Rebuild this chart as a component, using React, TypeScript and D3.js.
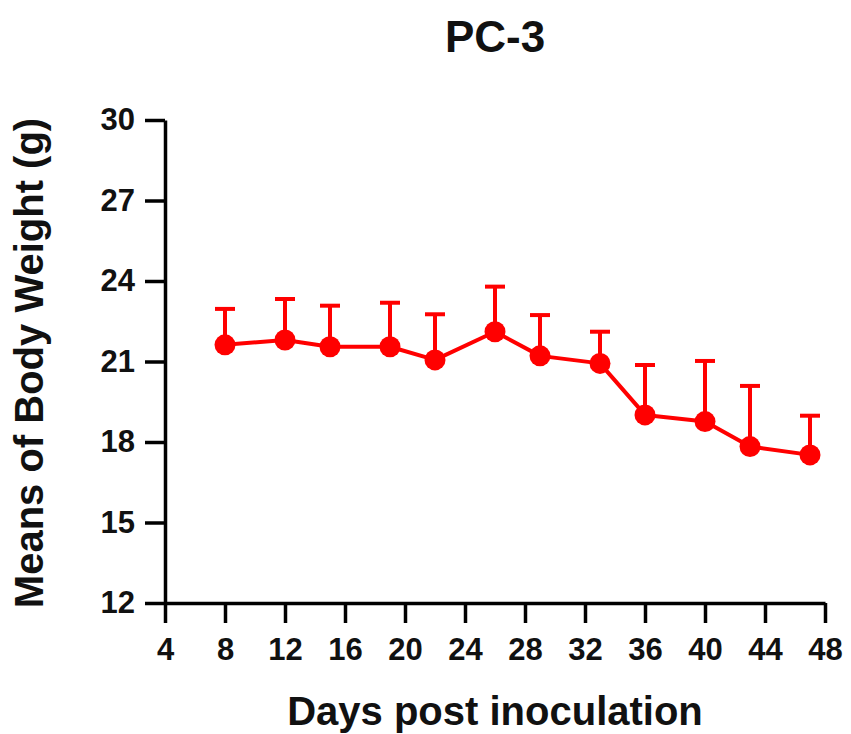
import React, { useEffect, useRef } from "react";
import * as d3 from "d3";

// PC-3 body weight (mean + SD, upper bar only)
const days = [8, 12, 15, 19, 22, 26, 29, 33, 36, 40, 43, 47];
const means = [21.62, 21.8, 21.55, 21.55, 21.06, 22.11, 21.21, 20.93, 19.01, 18.76, 17.83, 17.52];
const errors = [1.34, 1.53, 1.53, 1.64, 1.7, 1.68, 1.52, 1.18, 1.86, 2.26, 2.26, 1.46];
const xTicks = [4, 8, 12, 16, 20, 24, 28, 32, 36, 40, 44, 48];
const yTicks = [12, 15, 18, 21, 24, 27, 30];

const width = 851;
const height = 734;
const margin = { top: 120, right: 26, bottom: 131, left: 165 };
const font = "'Liberation Sans', Arial, sans-serif";
const red = "#ff0000";

export default function App() {
  const ref = useRef<SVGSVGElement>(null);

  useEffect(() => {
    const svg = d3.select(ref.current);
    svg.selectAll("*").remove();

    const x = d3
      .scaleLinear()
      .domain([4, 48])
      .range([margin.left, width - margin.right]);
    const y = d3
      .scaleLinear()
      .domain([12, 30])
      .range([height - margin.bottom, margin.top]);

    // axes
    const gx = svg
      .append("g")
      .attr("transform", `translate(0,${y(12)})`)
      .call(
        d3
          .axisBottom(x)
          .tickValues(xTicks)
          .tickSize(20)
          .tickSizeOuter(0)
          .tickPadding(15)
      );
    const gy = svg
      .append("g")
      .attr("transform", `translate(${x(4)},0)`)
      .call(
        d3
          .axisLeft(y)
          .tickValues(yTicks)
          .tickSize(20)
          .tickSizeOuter(0)
          .tickPadding(10)
      );
    [gx, gy].forEach((g) => {
      g.selectAll("path, line").attr("stroke", "#000").attr("stroke-width", 3.5);
      g.selectAll("text")
        .attr("font-family", font)
        .attr("font-weight", "bold")
        .attr("font-size", 31)
        .attr("fill", "#111");
    });

    // error bars (upper only)
    const bars = svg.append("g").attr("stroke", red).attr("stroke-width", 4);
    days.forEach((d, i) => {
      const top = y(means[i] + errors[i]);
      bars
        .append("line")
        .attr("x1", x(d))
        .attr("x2", x(d))
        .attr("y1", y(means[i]))
        .attr("y2", top);
      bars
        .append("line")
        .attr("x1", x(d) - 10)
        .attr("x2", x(d) + 10)
        .attr("y1", top)
        .attr("y2", top);
    });

    // mean line
    const line = d3
      .line<number>()
      .x((d) => x(d))
      .y((_, i) => y(means[i]));
    svg
      .append("path")
      .attr("d", line(days))
      .attr("fill", "none")
      .attr("stroke", red)
      .attr("stroke-width", 4)
      .attr("stroke-linejoin", "round");

    svg
      .append("g")
      .selectAll("circle")
      .data(days)
      .join("circle")
      .attr("cx", (d) => x(d))
      .attr("cy", (_, i) => y(means[i]))
      .attr("r", 10.5)
      .attr("fill", red);

    // titles
    svg
      .append("text")
      .attr("x", 495)
      .attr("y", 52)
      .attr("text-anchor", "middle")
      .attr("font-family", font)
      .attr("font-weight", "bold")
      .attr("font-size", 44)
      .attr("fill", "#111")
      .text("PC-3");

    svg
      .append("text")
      .attr("x", 495)
      .attr("y", 725)
      .attr("text-anchor", "middle")
      .attr("font-family", font)
      .attr("font-weight", "bold")
      .attr("font-size", 40)
      .attr("fill", "#111")
      .text("Days post inoculation");

    svg
      .append("text")
      .attr("transform", `translate(43,363) rotate(-90)`)
      .attr("text-anchor", "middle")
      .attr("font-family", font)
      .attr("font-weight", "bold")
      .attr("font-size", 40)
      .attr("fill", "#111")
      .text("Means of Body Weight (g)");
  }, []);

  return (
    <svg
      ref={ref}
      width={width}
      height={height}
      style={{ position: "absolute", left: 0, top: 0, background: "#fff" }}
    />
  );
}
